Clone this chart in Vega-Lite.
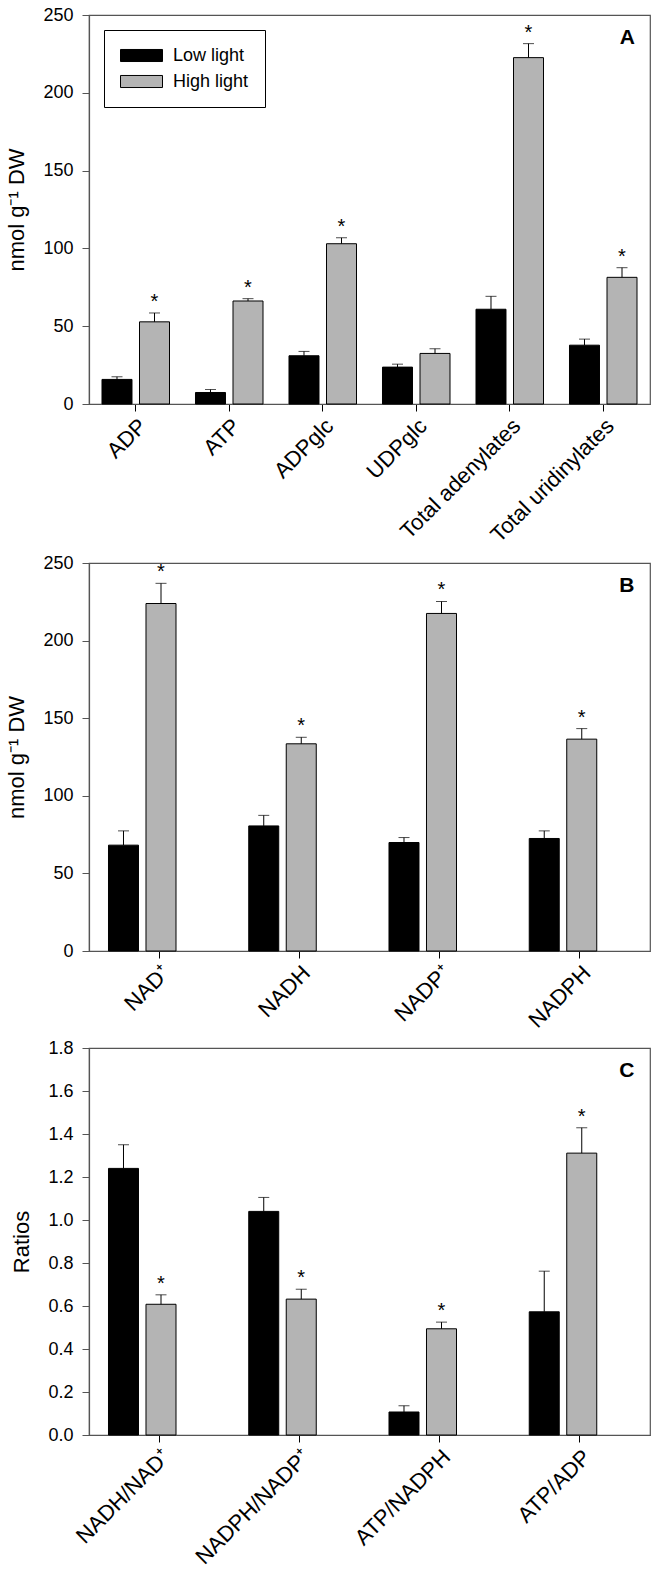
{
  "$schema": "https://vega.github.io/schema/vega-lite/v6.json",
  "background": "white",
  "padding": {"left": 5, "top": 5, "right": 3, "bottom": 5},
  "spacing": 6,
  "config": {
    "font": "Liberation Sans",
    "view": {"stroke": "#555555", "strokeWidth": 1.2},
    "axis": {"domainColor": "#555555", "domainWidth": 1.2, "tickColor": "#555555", "labelColor": "black", "titleColor": "black", "grid": false, "labelFont": "Liberation Sans", "titleFont": "Liberation Sans", "titleFontWeight": "normal"},
    "axisY": {"labelFontSize": 18, "tickSize": 7, "labelPadding": 9, "titleFontSize": 22, "titlePadding": 14},
    "axisX": {"labelFontSize": 22, "labelAngle": -45, "tickSize": 7, "labelPadding": 4, "tickColor": "black"},
    "legend": {"strokeColor": "black", "padding": 16, "rowPadding": 7, "labelFontSize": 18, "labelOffset": 34, "symbolType": "M-1,-0.67H3.667V0.67H-1Z", "symbolSize": 324, "symbolStrokeColor": "black", "symbolStrokeWidth": 1, "labelFont": "Liberation Sans", "fillColor": "white"}
  },
  "datasets": {
    "a": [
      {"cat": "ADP", "light": "Low light", "value": 15.8, "upper": 17.5, "sig": ""},
      {"cat": "ADP", "light": "High light", "value": 52.8, "upper": 58.5, "sig": "*"},
      {"cat": "ATP", "light": "Low light", "value": 7.4, "upper": 9.3, "sig": ""},
      {"cat": "ATP", "light": "High light", "value": 66.2, "upper": 67.7, "sig": "*"},
      {"cat": "ADPglc", "light": "Low light", "value": 31.0, "upper": 33.8, "sig": ""},
      {"cat": "ADPglc", "light": "High light", "value": 103.0, "upper": 106.8, "sig": "*"},
      {"cat": "UDPglc", "light": "Low light", "value": 23.7, "upper": 25.6, "sig": ""},
      {"cat": "UDPglc", "light": "High light", "value": 32.5, "upper": 35.5, "sig": ""},
      {"cat": "Total adenylates", "light": "Low light", "value": 60.9, "upper": 69.2, "sig": ""},
      {"cat": "Total adenylates", "light": "High light", "value": 222.6, "upper": 231.6, "sig": "*"},
      {"cat": "Total uridinylates", "light": "Low light", "value": 37.8, "upper": 41.7, "sig": ""},
      {"cat": "Total uridinylates", "light": "High light", "value": 81.4, "upper": 87.6, "sig": "*"}
    ],
    "b": [
      {"cat": "NAD⁺", "light": "Low light", "value": 68.2, "upper": 77.4, "sig": ""},
      {"cat": "NAD⁺", "light": "High light", "value": 223.9, "upper": 236.9, "sig": "*"},
      {"cat": "NADH", "light": "Low light", "value": 80.6, "upper": 87.4, "sig": ""},
      {"cat": "NADH", "light": "High light", "value": 133.5, "upper": 137.7, "sig": "*"},
      {"cat": "NADP⁺", "light": "Low light", "value": 69.9, "upper": 73.1, "sig": ""},
      {"cat": "NADP⁺", "light": "High light", "value": 217.5, "upper": 225.2, "sig": "*"},
      {"cat": "NADPH", "light": "Low light", "value": 72.5, "upper": 77.4, "sig": ""},
      {"cat": "NADPH", "light": "High light", "value": 136.5, "upper": 143.3, "sig": "*"}
    ],
    "c": [
      {"cat": "NADH/NAD⁺", "light": "Low light", "value": 1.24, "upper": 1.35, "sig": ""},
      {"cat": "NADH/NAD⁺", "light": "High light", "value": 0.608, "upper": 0.652, "sig": "*"},
      {"cat": "NADPH/NADP⁺", "light": "Low light", "value": 1.04, "upper": 1.105, "sig": ""},
      {"cat": "NADPH/NADP⁺", "light": "High light", "value": 0.632, "upper": 0.678, "sig": "*"},
      {"cat": "ATP/NADPH", "light": "Low light", "value": 0.107, "upper": 0.136, "sig": ""},
      {"cat": "ATP/NADPH", "light": "High light", "value": 0.494, "upper": 0.525, "sig": "*"},
      {"cat": "ATP/ADP", "light": "Low light", "value": 0.573, "upper": 0.762, "sig": ""},
      {"cat": "ATP/ADP", "light": "High light", "value": 1.311, "upper": 1.429, "sig": "*"}
    ]
  },
  "resolve": {"scale": {"color": "independent"}, "legend": {"color": "independent"}},
  "vconcat": [
    {
      "width": 561, "height": 389,
      "encoding": {
        "x": {"field": "cat", "type": "nominal", "sort": null, "title": null, "scale": {"paddingInner": 0.278, "paddingOuter": 0.139}}
      },
      "layer": [
        {"data": {"name": "a"}, "mark": {"type": "bar", "stroke": "black", "strokeWidth": 1},
         "encoding": {
           "xOffset": {"field": "light", "type": "nominal", "sort": ["Low light", "High light"], "scale": {"paddingInner": 0.2, "paddingOuter": 0}},
           "y": {"field": "value", "type": "quantitative", "title": "nmol g⁻¹ DW", "scale": {"domain": [0, 250], "nice": false}, "axis": {"values": [0, 50, 100, 150, 200, 250]}},
           "color": {"field": "light", "type": "nominal", "sort": ["Low light", "High light"], "scale": {"domain": ["Low light", "High light"], "range": ["#000000", "#b4b4b4"]}, "legend": {"title": null, "orient": "top-left", "offset": 15}}
         }},
        {"data": {"name": "a"}, "mark": {"type": "rule", "color": "black", "strokeWidth": 1},
         "encoding": {"xOffset": {"field": "light", "type": "nominal", "sort": ["Low light", "High light"]}, "y": {"field": "value", "type": "quantitative", "title": "nmol g⁻¹ DW"}, "y2": {"field": "upper"}}},
        {"data": {"name": "a"}, "mark": {"type": "tick", "color": "black", "size": 11, "thickness": 1},
         "encoding": {"xOffset": {"field": "light", "type": "nominal", "sort": ["Low light", "High light"]}, "y": {"field": "upper", "type": "quantitative", "title": "nmol g⁻¹ DW"}}},
        {"data": {"name": "a"}, "mark": {"type": "text", "dy": -5, "baseline": "alphabetic", "fontSize": 20, "font": "Liberation Sans"},
         "encoding": {"xOffset": {"field": "light", "type": "nominal", "sort": ["Low light", "High light"]}, "y": {"field": "upper", "type": "quantitative", "title": "nmol g⁻¹ DW"}, "text": {"field": "sig"}}},
        {"data": {"values": [{"panel": "A"}]}, "mark": {"type": "text", "fontSize": 21, "fontWeight": "bold", "baseline": "alphabetic", "align": "center", "dx": 24, "font": "Liberation Sans"},
         "encoding": {"x": {"datum": "Total uridinylates"}, "y": {"datum": 231.4, "type": "quantitative", "title": "nmol g⁻¹ DW"}, "text": {"field": "panel"}}}
      ]
    },
    {
      "width": 561, "height": 388,
      "encoding": {
        "x": {"field": "cat", "type": "nominal", "sort": null, "title": null, "scale": {"paddingInner": 0.278, "paddingOuter": 0.139}}
      },
      "layer": [
        {"data": {"name": "b"}, "mark": {"type": "bar", "stroke": "black", "strokeWidth": 1},
         "encoding": {
           "xOffset": {"field": "light", "type": "nominal", "sort": ["Low light", "High light"], "scale": {"paddingInner": 0.2, "paddingOuter": 0}},
           "y": {"field": "value", "type": "quantitative", "title": "nmol g⁻¹ DW", "scale": {"domain": [0, 250], "nice": false}, "axis": {"values": [0, 50, 100, 150, 200, 250]}},
           "color": {"field": "light", "type": "nominal", "sort": ["Low light", "High light"], "scale": {"domain": ["Low light", "High light"], "range": ["#000000", "#b4b4b4"]}, "legend": null}
         }},
        {"data": {"name": "b"}, "mark": {"type": "rule", "color": "black", "strokeWidth": 1},
         "encoding": {"xOffset": {"field": "light", "type": "nominal", "sort": ["Low light", "High light"]}, "y": {"field": "value", "type": "quantitative", "title": "nmol g⁻¹ DW"}, "y2": {"field": "upper"}}},
        {"data": {"name": "b"}, "mark": {"type": "tick", "color": "black", "size": 11, "thickness": 1},
         "encoding": {"xOffset": {"field": "light", "type": "nominal", "sort": ["Low light", "High light"]}, "y": {"field": "upper", "type": "quantitative", "title": "nmol g⁻¹ DW"}}},
        {"data": {"name": "b"}, "mark": {"type": "text", "dy": -5, "baseline": "alphabetic", "fontSize": 20, "font": "Liberation Sans"},
         "encoding": {"xOffset": {"field": "light", "type": "nominal", "sort": ["Low light", "High light"]}, "y": {"field": "upper", "type": "quantitative", "title": "nmol g⁻¹ DW"}, "text": {"field": "sig"}}},
        {"data": {"values": [{"panel": "B"}]}, "mark": {"type": "text", "fontSize": 21, "fontWeight": "bold", "baseline": "alphabetic", "align": "center", "dx": 47, "font": "Liberation Sans"},
         "encoding": {"x": {"datum": "NADPH"}, "y": {"datum": 231.4, "type": "quantitative", "title": "nmol g⁻¹ DW"}, "text": {"field": "panel"}}}
      ]
    },
    {
      "width": 561, "height": 387,
      "encoding": {
        "x": {"field": "cat", "type": "nominal", "sort": null, "title": null, "scale": {"paddingInner": 0.278, "paddingOuter": 0.139}}
      },
      "layer": [
        {"data": {"name": "c"}, "mark": {"type": "bar", "stroke": "black", "strokeWidth": 1},
         "encoding": {
           "xOffset": {"field": "light", "type": "nominal", "sort": ["Low light", "High light"], "scale": {"paddingInner": 0.2, "paddingOuter": 0}},
           "y": {"field": "value", "type": "quantitative", "title": "Ratios", "scale": {"domain": [0, 1.8], "nice": false}, "axis": {"values": [0, 0.2, 0.4, 0.6, 0.8, 1.0, 1.2, 1.4, 1.6, 1.8], "format": ".1f"}},
           "color": {"field": "light", "type": "nominal", "sort": ["Low light", "High light"], "scale": {"domain": ["Low light", "High light"], "range": ["#000000", "#b4b4b4"]}, "legend": null}
         }},
        {"data": {"name": "c"}, "mark": {"type": "rule", "color": "black", "strokeWidth": 1},
         "encoding": {"xOffset": {"field": "light", "type": "nominal", "sort": ["Low light", "High light"]}, "y": {"field": "value", "type": "quantitative", "title": "Ratios"}, "y2": {"field": "upper"}}},
        {"data": {"name": "c"}, "mark": {"type": "tick", "color": "black", "size": 11, "thickness": 1},
         "encoding": {"xOffset": {"field": "light", "type": "nominal", "sort": ["Low light", "High light"]}, "y": {"field": "upper", "type": "quantitative", "title": "Ratios"}}},
        {"data": {"name": "c"}, "mark": {"type": "text", "dy": -5, "baseline": "alphabetic", "fontSize": 20, "font": "Liberation Sans"},
         "encoding": {"xOffset": {"field": "light", "type": "nominal", "sort": ["Low light", "High light"]}, "y": {"field": "upper", "type": "quantitative", "title": "Ratios"}, "text": {"field": "sig"}}},
        {"data": {"values": [{"panel": "C"}]}, "mark": {"type": "text", "fontSize": 21, "fontWeight": "bold", "baseline": "alphabetic", "align": "center", "dx": 47, "font": "Liberation Sans"},
         "encoding": {"x": {"datum": "ATP/ADP"}, "y": {"datum": 1.665, "type": "quantitative", "title": "Ratios"}, "text": {"field": "panel"}}}
      ]
    }
  ]
}
